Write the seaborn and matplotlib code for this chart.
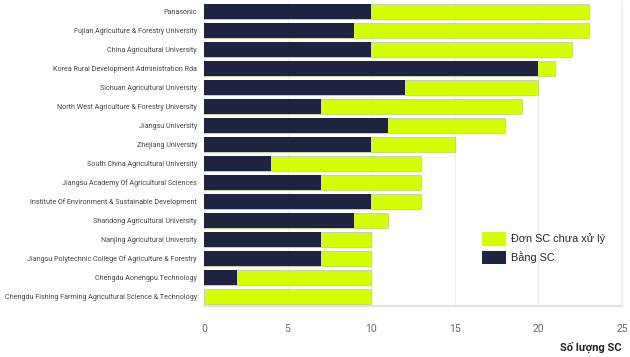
import matplotlib
matplotlib.use("Agg")
import matplotlib.pyplot as plt
import seaborn as sns
import pandas as pd
from matplotlib.patches import Patch

categories = [
    "Panasonic",
    "Fujian Agriculture & Forestry University",
    "China Agricultural University",
    "Korea Rural Development Administration Rda",
    "Sichuan Agricultural University",
    "North West Agriculture & Forestry University",
    "Jiangsu University",
    "Zhejiang University",
    "South China Agricultural University",
    "Jiangsu Academy Of Agricultural Sciences",
    "Institute Of Environment & Sustainable Development",
    "Shandong Agricultural University",
    "Nanjing Agricultural University",
    "Jiangsu Polytechnic College Of Agriculture & Forestry",
    "Chengdu Aonengpu Technology",
    "Chengdu Fishing Farming Agricultural Science & Technology",
]
bang_sc = [10, 9, 10, 20, 12, 7, 11, 10, 4, 7, 10, 9, 7, 7, 2, 0]
total_sc = [23, 23, 22, 21, 20, 19, 18, 15, 13, 13, 13, 11, 10, 10, 10, 10]
x_ticks = [0, 5, 10, 15, 20, 25]

lime = "#d4ff00"
navy = "#1e2340"

df = pd.DataFrame({"cat": categories, "bang": bang_sc, "total": total_sc})

sns.set_theme(style="white")
plt.rcParams["font.family"] = ["Roboto", "DejaVu Sans"]

fig = plt.figure(figsize=(6.3, 3.57), dpi=100)
ax = fig.add_axes([204 / 630, 1 - 306 / 357, 418 / 630, 304 / 357])

sns.barplot(data=df, y="cat", x="total", orient="h", color=lime, width=0.74,
            edgecolor="#b8c8a0", linewidth=0.5, saturation=1, ax=ax, zorder=2)
sns.barplot(data=df, y="cat", x="bang", orient="h", color=navy, width=0.74,
            edgecolor="none", linewidth=0, saturation=1, ax=ax, zorder=3)

ax.set_xlim(0, 25)
ax.set_xticks(x_ticks)
ax.set_xticklabels([str(t) for t in x_ticks])
ax.set_ylim(15.5, -0.5)
ax.grid(axis="x", color="#eeeeee", linewidth=0.8, zorder=0)
ax.set_axisbelow(True)
for s in ["top", "left"]:
    ax.spines[s].set_visible(False)
ax.spines["right"].set_color("#eeeeee")
ax.spines["bottom"].set_color("#dddddd")
ax.tick_params(axis="x", length=0, pad=13, labelsize=7.5, labelcolor="#666666")
ax.tick_params(axis="y", length=0, pad=5, labelsize=5.1, labelcolor="#444444")
ax.set_ylabel("")
ax.set_xlabel("Số lượng SC", loc="right", fontsize=8, fontweight="bold",
              color="#222222", labelpad=6)

handles = [Patch(facecolor=lime, edgecolor="none", label="Đơn SC chưa xử lý"),
           Patch(facecolor=navy, edgecolor="none", label="Bằng SC")]
fig.legend(handles=handles, loc="upper left", bbox_to_anchor=(472 / 630, 1 - 222 / 357),
           frameon=False, handlelength=2.2, handleheight=1.6,
           prop={"family": ["Liberation Sans", "DejaVu Sans"], "size": 7.8},
           labelspacing=0.45, handletextpad=0.5)

fig.savefig("out.png", dpi=100)
